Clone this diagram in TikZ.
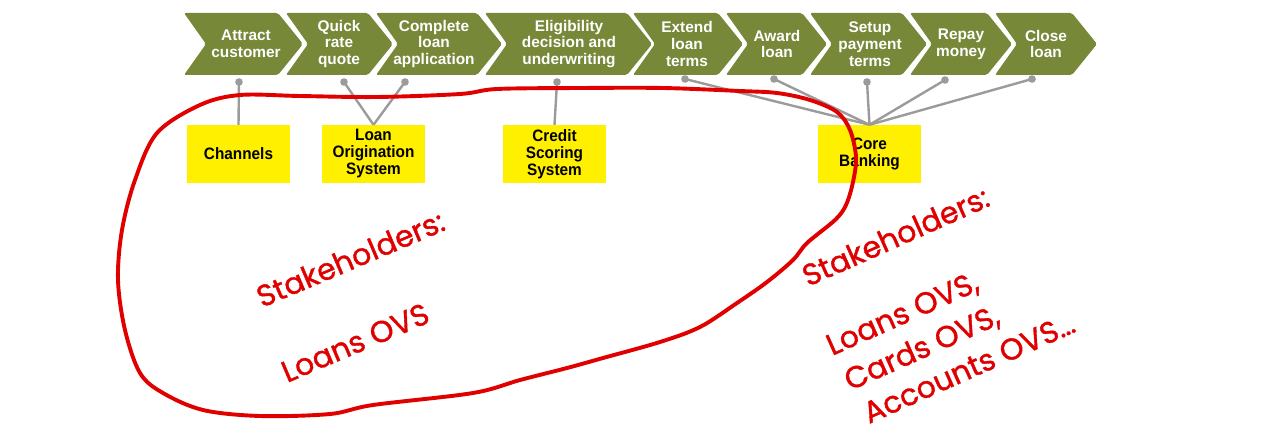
\documentclass[tikz,border=0pt]{standalone}
\usepackage{fontspec}
\setmainfont{Liberation Sans}
\newfontfamily\handfont{Poppins}[FakeBold=1.2]
\newfontfamily\boxfont{Liberation Sans}[FakeStretch=0.93]
\definecolor{olivegreen}{RGB}{119,136,56}
\definecolor{sysyellow}{RGB}{255,240,0}
\definecolor{conngray}{RGB}{155,155,155}
\definecolor{handred}{RGB}{225,0,0}
\newcommand\chevron[2]{\fill[chevshape] (#1,13) -- (#2,13) -- ({#2+25},44) -- (#2,75) -- (#1,75) -- ({#1+22},44) -- cycle;}
\begin{document}
\begin{tikzpicture}[x=1pt,y=-1pt,
  chevshape/.style={fill=olivegreen, rounded corners=2pt},
  chevtext/.style={text=white, font=\bfseries\fontsize{15.4}{16.7}\selectfont, align=center, inner sep=0pt},
  sysbox/.style={fill=sysyellow, minimum width=103pt, minimum height=58pt, inner sep=0pt, align=center, font=\boxfont\bfseries\fontsize{16.5}{17}\selectfont},
  conn/.style={draw=conngray, line width=2.4pt},
  hand/.style={text=handred, font=\handfont\fontsize{30}{30}\selectfont, anchor=base west, inner sep=0pt},
  loop/.style={draw=handred, line width=3.9pt, line join=round}
]
\useasboundingbox[fill=white] (0,0) rectangle (1280,433);

% chevrons
\chevron{184}{278}
\chevron{286}{368}
\chevron{376}{477}
\chevron{485}{627}
\chevron{633}{718}
\chevron{726}{802}
\chevron{810}{902}
\chevron{910}{987}
\chevron{995}{1072}

\node[chevtext] (c1) at (246,44) {Attract\\customer};
\node[chevtext] (c2) at (339,44) {Quick\\rate\\quote};
\node[chevtext] (c3) at (434,44) {Complete\\loan\\application};
\node[chevtext] (c4) at (569,44) {Eligibility\\decision and\\underwriting};
\node[chevtext] (c5) at (687,44) {Extend\\loan\\terms};
\node[chevtext] (c6) at (777,44) {Award\\loan};
\node[chevtext] (c7) at (870,44) {Setup\\payment\\terms};
\node[chevtext] (c8) at (961,44) {Repay\\money};
\node[chevtext] (c9) at (1046,44) {Close\\loan};

% system boxes
\node[sysbox] (chan) at (238.5,154) {Channels};
\node[sysbox] (los) at (373.5,154) {Loan\\Origination\\System};
\node[sysbox] (css) at (554.5,154) {Credit\\Scoring\\System};
\node[sysbox] (core) at (869.5,154) {Core\\Banking};

% connector dots
\coordinate (d1) at (239,82);
\coordinate (d2) at (344,82);
\coordinate (d3) at (405,82);
\coordinate (d4) at (557,82);
\coordinate (d5) at (685,79);
\coordinate (d6) at (774,79);
\coordinate (d7) at (867,82);
\coordinate (d8) at (945,80);
\coordinate (d9) at (1032,79);

\draw[conn] (d1) -- (chan.north);
\draw[conn] (d2) -- (los.north);
\draw[conn] (d3) -- (los.north);
\draw[conn] (d4) -- (css.north);
\foreach \d in {d5,d6,d7,d8,d9} {\draw[conn] (\d) -- (core.north);}
\foreach \d in {d1,d2,d3,d4,d5,d6,d7,d8,d9} {\fill[conngray] (\d) circle (3.8);}

% red hand-drawn loop
\draw[loop] plot[smooth cycle, tension=0.55] coordinates {
 (240,95) (300,96) (377,97) (460,94) (497,89) (580,88) (663,88) (740,91)
 (777,93) (810,100) (837,112) (850,130) (856,157) (853,182) (846,205)
 (835,220) (807,243) (793,260) (767,282) (737,303) (700,327) (660,342)
 (603,358) (567,368) (520,380) (473,393) (373,405) (330,414) (260,416)
 (203,410) (163,393) (140,373) (125,330) (118,280) (122,230) (135,180)
 (157,133) (200,105)};

% red hand-written labels
\node[hand, rotate=23] (s1) at (262,308) {Stakeholders:};
\node[hand, rotate=23] (s2) at (287,383) {Loans OVS};
\node[hand, rotate=24] (s3) at (808,287) {Stakeholders:};
\node[hand, rotate=24] (s4) at (832,356) {Loans OVS,};
\node[hand, rotate=24] (s5) at (850,391) {Cards OVS,};
\node[hand, rotate=24] (s6) at (869,424) {Accounts OVS…};
\end{tikzpicture}
\end{document}
